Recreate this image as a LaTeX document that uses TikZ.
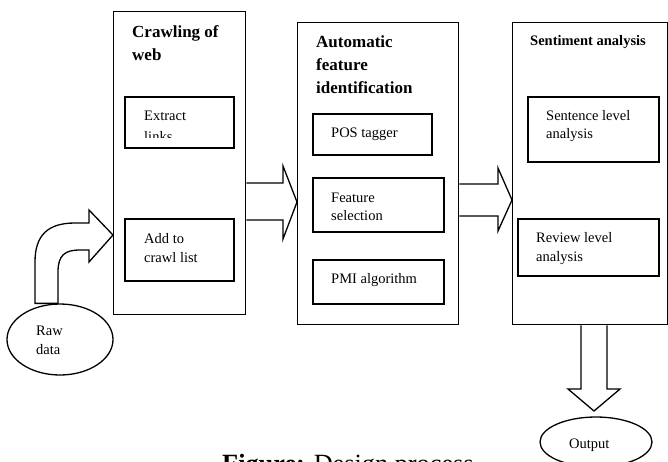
\documentclass[tikz,border=0pt]{standalone}
\usepackage{fontspec}
\setmainfont{Liberation Serif}
\usetikzlibrary{shapes.geometric}
\begin{document}
\begin{tikzpicture}[x=1pt,y=-1pt,
  outer/.style={draw,line width=1.3pt,anchor=north west,inner sep=0pt},
  inbox/.style={draw,line width=1.6pt,anchor=north west,inner sep=0pt},
  head/.style={font=\fontsize{17}{22}\selectfont\bfseries,anchor=base west,inner sep=0pt},
  shead/.style={font=\fontsize{14.5}{18}\selectfont\bfseries,anchor=base west,inner sep=0pt},
  lbl/.style={font=\fontsize{14.5}{18}\selectfont,anchor=base west,inner sep=0pt},
  blockarrow/.style={draw,line width=1.3pt,fill=white,line join=miter},
  oval/.style={draw,ellipse,line width=1.3pt,inner sep=0pt}]
\useasboundingbox (0,0) rectangle (668,461);

% outer boxes
\node[outer,minimum width=132pt,minimum height=303pt] (b1) at (113,11) {};
\node[outer,minimum width=161pt,minimum height=302pt] (b2) at (297,22) {};
\node[outer,minimum width=155pt,minimum height=302pt] (b3) at (512,22) {};

% titles
\node[head] (t1a) at (132,37) {Crawling of};
\node[head] (t1b) at (132,60) {web};
\node[head] (t2a) at (316,47) {Automatic};
\node[head] (t2b) at (316,70) {feature};
\node[head] (t2c) at (316,93) {identification};
\node[shead] (t3a) at (530,45) {Sentiment analysis};

% inner boxes
\node[inbox,minimum width=109pt,minimum height=51pt] (ex) at (124,96) {};
\node[inbox,minimum width=109pt,minimum height=62pt] (add) at (124,218) {};
\node[inbox,minimum width=119pt,minimum height=41pt] (pos) at (312,113) {};
\node[inbox,minimum width=131pt,minimum height=54pt] (fs) at (312,177) {};
\node[inbox,minimum width=131pt,minimum height=44pt] (pmi) at (312,259) {};
\node[inbox,minimum width=131pt,minimum height=65pt] (sl) at (527,96) {};
\node[inbox,minimum width=141pt,minimum height=57pt] (rl) at (517,218) {};

% inner labels
\node[lbl] (exa) at (144,120) {Extract};
\begin{scope}
  \clip (124,96) rectangle (233,137.5);
  \node[lbl] (exb) at (144,141) {links};
\end{scope}
\node[lbl] (adda) at (144,243) {Add to};
\node[lbl] (addb) at (144,262) {crawl list};
\node[lbl] (posa) at (331,137) {POS tagger};
\node[lbl] (fsa) at (331,202) {Feature};
\node[lbl] (fsb) at (331,220) {selection};
\node[lbl] (pmia) at (331,283) {PMI algorithm};
\node[lbl] (sla) at (546,120) {Sentence level};
\node[lbl] (slb) at (546,138) {analysis};
\node[lbl] (rla) at (536,242) {Review level};
\node[lbl] (rlb) at (536,261) {analysis};

% ellipses
\node[oval,minimum width=106pt,minimum height=71pt] (raw) at (60,339.5) {};
\node[lbl] (rawa) at (36,335) {Raw};
\node[lbl] (rawb) at (36,354) {data};
\node[oval,minimum width=112pt,minimum height=50pt] (out) at (596,442) {};
\node[lbl] (outa) at (569,448) {Output};

% block arrows
\draw[blockarrow] (b1.east |- 0,183) -- (283,183) -- (283,166) -- (b2.west |- 0,202)
  -- (283,239) -- (283,220) -- (b1.east |- 0,220);
\draw[blockarrow] (b2.east |- 0,184) -- (498,184) -- (498,168) -- (b3.west |- 0,200)
  -- (498,231) -- (498,216) -- (b2.east |- 0,216);
\draw[blockarrow] (581,0 |- b3.south) -- (581,389) -- (568,389) -- (594,411)
  -- (620,389) -- (607,389) -- (607,0 |- b3.south);
\draw[blockarrow] (35,0 |- raw.north) -- (35,262) .. controls (35,235) and (48,223) .. (75,223)
  -- (89,223) -- (89,210) -- (b1.west |- 0,235) -- (89,262) -- (89,250) -- (80,250)
  .. controls (65,250) and (58,255) .. (58,272) -- (58,0 |- raw.north) -- cycle;

% caption
\node[anchor=base west,inner sep=0pt,font=\fontsize{26.3}{30}\selectfont] (cap) at (222,472.5)
  {\textbf{Figure:} Design process};
\end{tikzpicture}
\end{document}
